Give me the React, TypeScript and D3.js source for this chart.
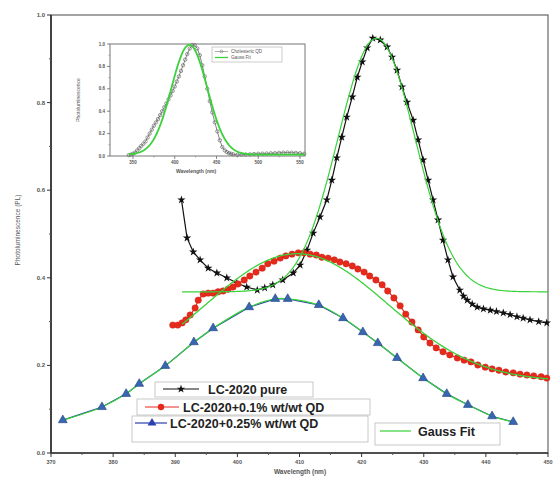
import React from "react";
import * as d3 from "d3";

// ---------- data (wavelength nm, PL) ----------
const pureData: [number, number][] = [
  [391.0, 0.578], [391.9, 0.491], [392.9, 0.459], [394.0, 0.441], [395.3, 0.422],
  [396.7, 0.411], [398.3, 0.4], [399.9, 0.388], [401.5, 0.379], [403.2, 0.372],
  [404.4, 0.377], [405.7, 0.384], [407.3, 0.395], [409.0, 0.411], [410.1, 0.429],
  [411.2, 0.463], [412.2, 0.502], [413.3, 0.539], [414.4, 0.578], [415.2, 0.623],
  [416.0, 0.674], [416.8, 0.721], [417.6, 0.767], [418.5, 0.813], [419.3, 0.858],
  [420.1, 0.893], [420.9, 0.925], [421.8, 0.947], [423.0, 0.943], [424.1, 0.927],
  [424.9, 0.904], [425.7, 0.874], [426.5, 0.836], [427.3, 0.801], [428.3, 0.76],
  [429.1, 0.715], [429.9, 0.669], [430.7, 0.623], [431.5, 0.578], [432.3, 0.532],
  [433.1, 0.486], [433.9, 0.441], [434.7, 0.402], [435.8, 0.372], [436.4, 0.358],
  [437.0, 0.349], [437.8, 0.34], [438.6, 0.333], [439.6, 0.329], [440.7, 0.326],
  [441.7, 0.323], [442.8, 0.32], [443.9, 0.316], [445.0, 0.311], [446.0, 0.308],
  [447.1, 0.304], [448.5, 0.3], [449.8, 0.297],
];

const qd01Data: [number, number][] = [
  [389.6, 0.292], [390.4, 0.292], [391.1, 0.297], [391.7, 0.304], [392.4, 0.315],
  [393.2, 0.331], [393.7, 0.349], [394.5, 0.363], [395.3, 0.365], [396.1, 0.365],
  [396.9, 0.368], [397.7, 0.37], [398.5, 0.374], [399.3, 0.379], [400.1, 0.386],
  [401.1, 0.395], [402.0, 0.404], [403.0, 0.413], [404.0, 0.422], [404.9, 0.432],
  [405.9, 0.438], [406.9, 0.445], [407.8, 0.45], [408.8, 0.454], [409.8, 0.457],
  [410.7, 0.457], [411.7, 0.454], [412.7, 0.452], [413.6, 0.447], [414.6, 0.445],
  [415.6, 0.441], [416.5, 0.436], [417.5, 0.432], [418.5, 0.427], [419.4, 0.42],
  [420.4, 0.413], [421.3, 0.404], [422.3, 0.395], [423.3, 0.384], [424.2, 0.37],
  [425.2, 0.354], [426.2, 0.336], [427.1, 0.317], [428.1, 0.299], [429.1, 0.281],
  [430.0, 0.265], [431.0, 0.251], [432.0, 0.24], [433.1, 0.231], [434.2, 0.224],
  [435.4, 0.217], [436.5, 0.212], [437.6, 0.208], [438.7, 0.201], [439.9, 0.196],
  [441.0, 0.192], [442.1, 0.189], [443.2, 0.185], [444.4, 0.183], [445.5, 0.18],
  [446.6, 0.178], [447.7, 0.176], [448.9, 0.174], [449.8, 0.171],
];

const qd025Data: [number, number][] = [
  [371.9, 0.075], [378.2, 0.105], [382.1, 0.135], [384.2, 0.158], [388.4, 0.199],
  [393.0, 0.253], [396.1, 0.285], [401.9, 0.333], [406.1, 0.352], [408.1, 0.352],
  [413.1, 0.338], [417.0, 0.308], [420.2, 0.276], [422.6, 0.251], [425.7, 0.217],
  [429.9, 0.171], [433.7, 0.135], [437.1, 0.11], [441.0, 0.084], [444.4, 0.071],
];

// Gauss fit parameters: [centre, sigma, amplitude, baseline, from, to]
const pureFit = [422.4, 6.2, 0.579, 0.368, 391.1, 450];
const qd01Fit = [409.6, 14.6, 0.292, 0.163, 391.1, 450];

// inset (normalised PL)
const insetData: [number, number][] = [
  [345, 0.008], [347.5, 0.012], [350, 0.02], [352.5, 0.03], [355, 0.05], [357.5, 0.07],
  [360, 0.09], [362.5, 0.11], [365, 0.13], [367.5, 0.165], [370, 0.2], [372.5, 0.235],
  [375, 0.27], [377.5, 0.3], [380, 0.33], [382.5, 0.365], [385, 0.4], [387.5, 0.435],
  [390, 0.47], [392.5, 0.505], [395, 0.54], [397.5, 0.58], [400, 0.62], [402.5, 0.665],
  [405, 0.71], [407.5, 0.76], [410, 0.81], [412.5, 0.86], [415, 0.91], [418, 0.96],
  [421, 0.99], [424, 0.99], [427, 0.96], [430, 0.9], [433, 0.81], [436, 0.71],
  [439, 0.6], [442, 0.49], [445, 0.39], [448, 0.3], [451, 0.22], [454, 0.14],
  [457, 0.08], [460, 0.05], [462.5, 0.035], [465, 0.025], [467.5, 0.02], [470, 0.015],
  [475, 0.01], [480, 0.012], [485, 0.013], [490, 0.015], [495, 0.018], [500, 0.02],
  [505, 0.021], [510, 0.022], [515, 0.024], [520, 0.025], [525, 0.028], [530, 0.03],
  [535, 0.031], [540, 0.03], [545, 0.028], [550, 0.025], [555, 0.02],
];
const insetFit = [417.5, 21.5, 0.98, 0.012, 345, 556];

const xTicks = [370, 380, 390, 400, 410, 420, 430, 440, 450];
const yTicks = [0, 0.2, 0.4, 0.6, 0.8, 1.0];
const insetXTicks = [350, 400, 450, 500, 550];
const insetYTicks = [0, 0.2, 0.4, 0.6, 0.8, 1.0];

const legendLabels = [
  "LC-2020 pure",
  "LC-2020+0.1% wt/wt QD",
  "LC-2020+0.25% wt/wt QD",
  "Gauss Fit",
];
const insetLegend = ["Cholesteric QD", "Gauss Fit"];

const GREEN = "#3ad13a";
const FONT = "'Liberation Sans', Arial, sans-serif";

function gaussPts(p: number[]): [number, number][] {
  const [c, s, a, b, x0, x1] = p;
  const pts: [number, number][] = [];
  const n = 300;
  for (let i = 0; i <= n; i++) {
    const x = x0 + ((x1 - x0) * i) / n;
    pts.push([x, b + a * Math.exp(-((x - c) ** 2) / (2 * s * s))]);
  }
  return pts;
}

export default function App() {
  const W = 553, H = 477;
  const x = d3.scaleLinear().domain([370, 450]).range([51, 548]);
  const y = d3.scaleLinear().domain([0, 1]).range([453, 15]);
  const line = d3.line<[number, number]>().x(d => x(d[0])).y(d => y(d[1]));
  const smooth = d3.line<[number, number]>().x(d => x(d[0])).y(d => y(d[1])).curve(d3.curveCatmullRom);

  const ix = d3.scaleLinear().domain([322.5, 556]).range([110, 305]);
  const iy = d3.scaleLinear().domain([0, 1]).range([156, 44]);
  const iline = d3.line<[number, number]>().x(d => ix(d[0])).y(d => iy(d[1]));

  const star = d3.symbol().type(d3.symbolStar).size(22)()!;
  const tri = d3.symbol().type(d3.symbolTriangle).size(34)()!;

  const minorY = d3.range(0.1, 1, 0.2);
  const minorX = d3.range(375, 450, 10);
  const iMinorY = d3.range(0.1, 1, 0.2);
  const iMinorX = d3.range(375, 556, 50);

  return (
    <svg width={W} height={H} style={{ position: "absolute", left: 0, top: 0, background: "#fff" }}
      fontFamily={FONT}>
      {/* frame */}
      <rect x={51} y={15} width={497} height={438} fill="none" stroke="#666" strokeWidth={1.2} />
      <line x1={51} x2={51} y1={15} y2={453} stroke="#222" strokeWidth={1.5} />
      <line x1={51} x2={548} y1={453} y2={453} stroke="#333" strokeWidth={1.4} />
      {yTicks.map(v => (
        <g key={"y" + v}>
          <line x1={47} x2={51} y1={y(v)} y2={y(v)} stroke="#333" />
          <text x={45} y={y(v) + 2} fontSize={6} fontWeight="bold" fill="#555" textAnchor="end">{v.toFixed(1)}</text>
        </g>
      ))}
      {minorY.map(v => <line key={"my" + v} x1={49} x2={51} y1={y(v)} y2={y(v)} stroke="#555" />)}
      {xTicks.map(v => (
        <g key={"x" + v}>
          <line x1={x(v)} x2={x(v)} y1={453} y2={457} stroke="#333" />
          <text x={x(v)} y={464} fontSize={5.5} fontWeight="bold" fill="#555" textAnchor="middle">{v}</text>
        </g>
      ))}
      {minorX.map(v => <line key={"mx" + v} x1={x(v)} x2={x(v)} y1={453} y2={455} stroke="#555" />)}
      <text x={300} y={474} fontSize={6.5} fontWeight="bold" fill="#555" textAnchor="middle">Wavelength (nm)</text>
      <text transform="translate(20,230) rotate(-90)" fontSize={6.5} fill="#555" textAnchor="middle">Photoluminescence (PL)</text>

      {/* pure */}
      <path d={line(pureData)!} fill="none" stroke="#111" strokeWidth={1.2} />
      {pureData.map((d, i) => (
        <path key={"s" + i} d={star} transform={`translate(${x(d[0])},${y(d[1])})`} fill="#111" />
      ))}
      {/* 0.1% */}
      <path d={line(qd01Data)!} fill="none" stroke="#e52a1c" strokeWidth={1.2} />
      {qd01Data.map((d, i) => (
        <circle key={"c" + i} cx={x(d[0])} cy={y(d[1])} r={3.2} fill="#e52a1c" stroke="#d0241a" strokeWidth={0.5} />
      ))}
      {/* fits */}
      <path d={line(gaussPts(pureFit))!} fill="none" stroke={GREEN} strokeWidth={1.2} />
      <path d={line(gaussPts(qd01Fit))!} fill="none" stroke={GREEN} strokeWidth={1.3} />
      {/* 0.25% */}
      <path d={line(qd025Data)!} fill="none" stroke="#2b3fb0" strokeWidth={1.2} />
      <path d={smooth(qd025Data)!} fill="none" stroke={GREEN} strokeWidth={1.2} />
      {qd025Data.map((d, i) => (
        <path key={"t" + i} d={tri} transform={`translate(${x(d[0])},${y(d[1])})`} fill="#3767b0" stroke="#1f3f80" strokeWidth={0.6} />
      ))}

      {/* inset */}
      <g>
        <rect x={110} y={44} width={195} height={112} fill="#fff" stroke="#777" strokeWidth={1} />
        {insetYTicks.map(v => (
          <g key={"iy" + v}>
            <line x1={107} x2={110} y1={iy(v)} y2={iy(v)} stroke="#555" strokeWidth={0.7} />
            <text x={105} y={iy(v) + 1.5} fontSize={4.5} fontWeight="bold" fill="#555" textAnchor="end">{v.toFixed(1)}</text>
          </g>
        ))}
        {iMinorY.map(v => <line key={"imy" + v} x1={108.5} x2={110} y1={iy(v)} y2={iy(v)} stroke="#777" strokeWidth={0.6} />)}
        {insetXTicks.map(v => (
          <g key={"ix" + v}>
            <line x1={ix(v)} x2={ix(v)} y1={156} y2={159} stroke="#555" strokeWidth={0.7} />
            <text x={ix(v)} y={164} fontSize={4.5} fontWeight="bold" fill="#555" textAnchor="middle">{v}</text>
          </g>
        ))}
        {iMinorX.map(v => <line key={"imx" + v} x1={ix(v)} x2={ix(v)} y1={156} y2={157.5} stroke="#777" strokeWidth={0.6} />)}
        <text x={196} y={173} fontSize={5} fontWeight="bold" fill="#555" textAnchor="middle">Wavelength (nm)</text>
        <text transform="translate(80,100) rotate(-90)" fontSize={5} fill="#555" textAnchor="middle">Photoluminescence</text>
        <path d={iline(insetData)!} fill="none" stroke="#666" strokeWidth={0.8} />
        {insetData.map((d, i) => (
          <circle key={"ic" + i} cx={ix(d[0])} cy={iy(d[1])} r={1.7} fill="none" stroke="#6a6a6a" strokeWidth={0.7} />
        ))}
        <path d={iline(gaussPts(insetFit))!} fill="none" stroke={GREEN} strokeWidth={1.8} />
        <rect x={212} y={47} width={70} height={15} fill="#fff" fillOpacity={0.6} stroke="#999" strokeWidth={0.5} />
        <line x1={215} x2={228} y1={51.5} y2={51.5} stroke="#777" strokeWidth={0.6} />
        <circle cx={221.5} cy={51.5} r={1.4} fill="none" stroke="#777" strokeWidth={0.6} />
        <text x={231} y={53.3} fontSize={4.6} fill="#555">{insetLegend[0]}</text>
        <line x1={215} x2={228} y1={57.5} y2={57.5} stroke={GREEN} strokeWidth={1.3} />
        <text x={231} y={59.3} fontSize={4.6} fill="#555">{insetLegend[1]}</text>
      </g>

      {/* legend */}
      <g fontWeight="bold" fontSize={12.5} fill="#222">
        <rect x={155} y={382} width={158} height={15} fill="#fff" stroke="#bbb" strokeWidth={0.8} />
        <line x1={163} x2={199} y1={389} y2={389} stroke="#111" strokeWidth={1.2} />
        <path d={star} transform="translate(181,389)" fill="#111" />
        <text x={208} y={394}>{legendLabels[0]}</text>

        <rect x={137} y={399} width={233} height={16} fill="#fff" stroke="#bbb" strokeWidth={0.8} />
        <line x1={145} x2={179} y1={407} y2={407} stroke="#e52a1c" strokeWidth={1.2} />
        <circle cx={161} cy={407} r={3.2} fill="#e52a1c" />
        <text x={183} y={412}>{legendLabels[1]}</text>

        <rect x={132} y={416} width={236} height={26} fill="#fff" stroke="#bbb" strokeWidth={0.8} />
        <line x1={135} x2={167} y1={423} y2={423} stroke="#2b3fb0" strokeWidth={1.2} />
        <path d={tri} transform="translate(152,423)" fill="#2b3fb0" />
        <text x={170} y={428}>{legendLabels[2]}</text>

        <rect x={375} y={423} width={125} height={22} fill="#fff" stroke="#bbb" strokeWidth={0.8} />
        <line x1={380} x2={411} y1={431} y2={431} stroke={GREEN} strokeWidth={1.2} />
        <text x={418} y={436}>{legendLabels[3]}</text>
      </g>
    </svg>
  );
}
